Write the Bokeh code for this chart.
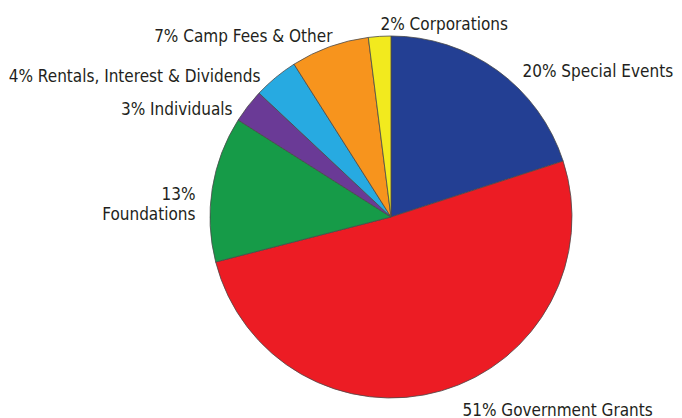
import math
from bokeh.plotting import figure
from bokeh.models import Range1d, ColumnDataSource
from bokeh.core.properties import value
from bokeh.embed import file_html
from bokeh.resources import INLINE

# ---- data ----
categories = ["Special Events", "Government Grants", "Foundations", "Individuals",
              "Rentals, Interest & Dividends", "Camp Fees & Other", "Corporations"]
percents = [20, 51, 13, 3, 4, 7, 2]
colors = ["#233F93", "#EC1C24", "#169B48", "#6A3A96", "#27AAE1", "#F7941D", "#F2EA1E"]

# ---- layout (label anchors in picture pixels, not data) ----
W, H = 682, 418
cx_px, cy_px, r_px = 390.5, 216.5, 181
label_layout = {
    "Special Events": [(522, 70, "left")],
    "Government Grants": [(462, 409, "left")],
    "Foundations": [(195, 193, "right"), (195, 213, "right")],
    "Individuals": [(232, 108, "right")],
    "Rentals, Interest & Dividends": [(260, 75, "right")],
    "Camp Fees & Other": [(332, 35, "right")],
    "Corporations": [(380, 23, "left")],
}

def X(px):
    return px

def Y(py):
    return H - py

p = figure(width=W, height=H, output_backend="svg", toolbar_location=None,
           x_range=Range1d(0, W), y_range=Range1d(0, H), min_border=0)
p.axis.visible = False
p.grid.visible = False
p.outline_line_color = None
p.background_fill_color = "white"

total = sum(percents)
starts, ends = [], []
cum = 0.0
for v in percents:
    starts.append(math.pi / 2 - 2 * math.pi * cum / total)
    cum += v
    ends.append(math.pi / 2 - 2 * math.pi * cum / total)

src = ColumnDataSource(dict(start=starts, end=ends, color=colors))
p.wedge(x=X(cx_px), y=Y(cy_px), radius=r_px, start_angle="start", end_angle="end",
        direction="clock", fill_color="color", line_color="#4a4a4a", line_width=0.8,
        source=src)

font = value("DejaVu Sans Condensed")
for cat, pct in zip(categories, percents):
    lay = label_layout[cat]
    if len(lay) == 1:
        texts = [f"{pct}% {cat}"]
    else:
        texts = [f"{pct}%", cat]
    for t, (lx, ly, al) in zip(texts, lay):
        p.text(x=[X(lx)], y=[Y(ly)], text=[t], text_font=font, text_font_size="17px",
               text_color="#231F20", text_align=al, text_baseline="alphabetic")

open("out.html", "w").write(file_html(p, INLINE))
